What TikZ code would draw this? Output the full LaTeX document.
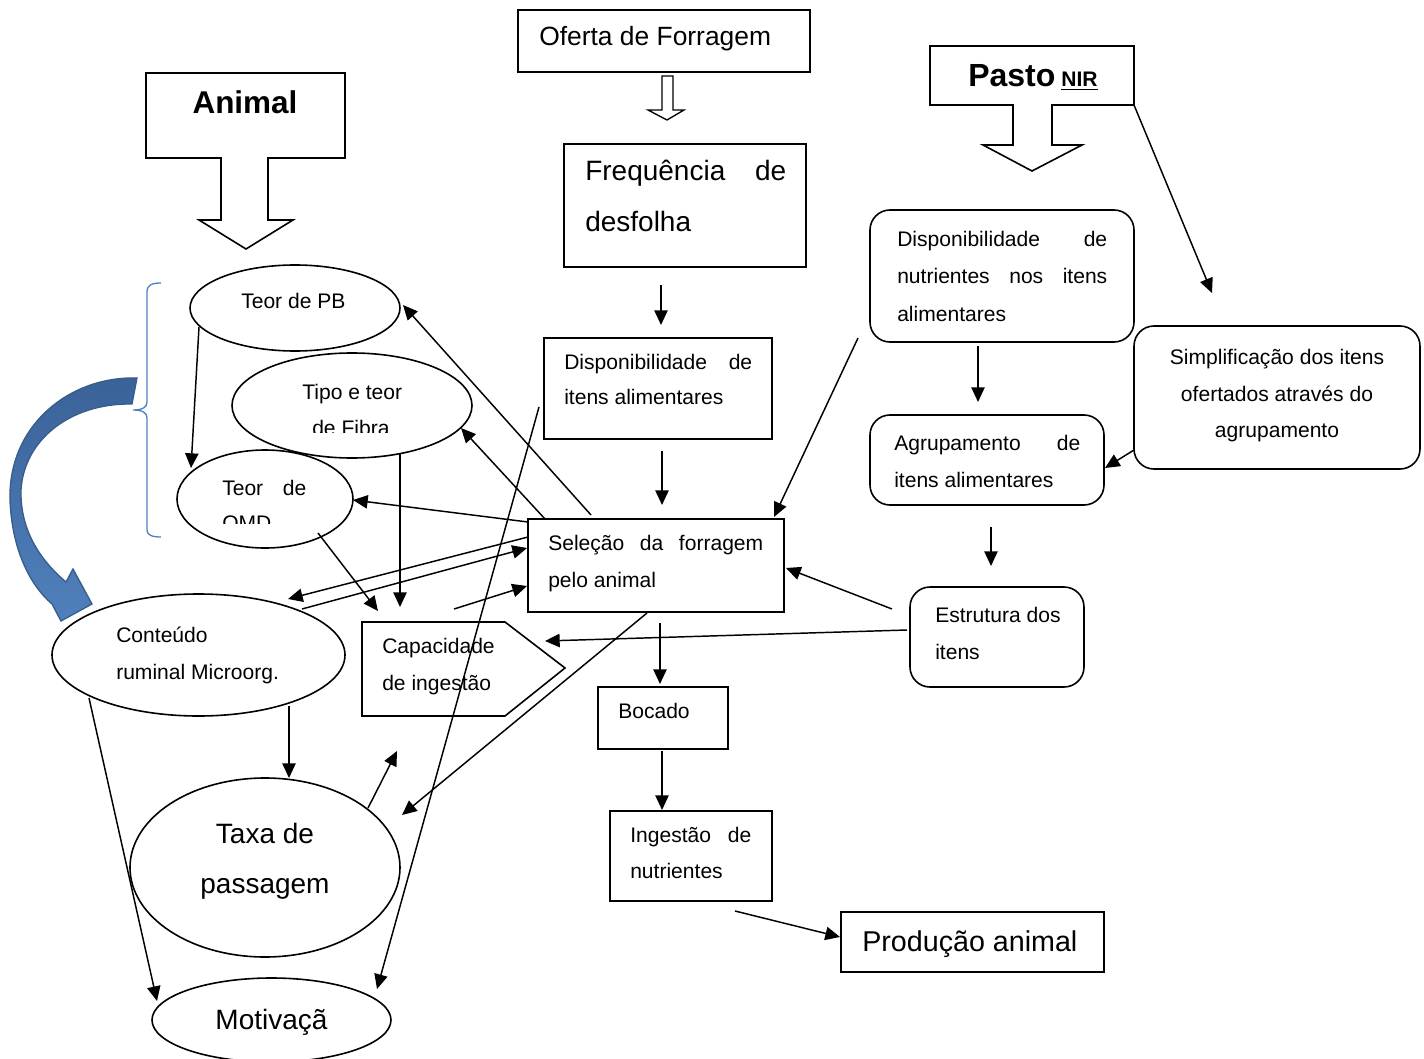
\documentclass[tikz,border=0pt]{standalone}
\usepackage{fontspec}
\setmainfont{Liberation Sans}
\usetikzlibrary{arrows.meta,shapes.geometric}
\definecolor{bracecol}{RGB}{79,129,189}
\definecolor{arrdark}{RGB}{56,93,138}
\definecolor{arrtop}{RGB}{58,98,152}
\definecolor{arrbot}{RGB}{80,128,188}
\newcommand{\jl}[2]{\makebox[#1][s]{#2}}
\begin{document}
\begin{tikzpicture}[x=0.75pt,y=-0.75pt,
 sz/.style 2 args={minimum width=#1*0.75pt,minimum height=#2*0.75pt},
 box/.style={draw,line width=1.2pt,rectangle,inner sep=0pt},
 rbox/.style={box,rounded corners=15pt},
 ell/.style={draw,line width=1.2pt,ellipse,inner sep=0pt},
 arr/.style={line width=1.1pt,-{Triangle[length=11pt,width=10pt]}},
 txt/.style={inner sep=0pt,anchor=base west,font=\fontsize{15.8}{18}\selectfont},
 big/.style={inner sep=0pt,anchor=base west,font=\fontsize{21}{24}\selectfont},
 bigc/.style={big,anchor=base},
 blockarr/.style={draw,line width=1.2pt,line join=miter},
]
\useasboundingbox (0,0) rectangle (1424,1059);

% ---------- block arrows ----------
\draw[blockarr] (146,73) -- (345,73) -- (345,158) -- (268,158) -- (268,220) -- (293,220)
  -- (246,249) -- (199,220) -- (221,220) -- (221,158) -- (146,158) -- cycle;
\node[inner sep=0pt,anchor=base,font=\fontsize{23.6}{28}\selectfont\bfseries] (tanimal) at (245,114) {Animal};

\draw[blockarr] (930,46) -- (1134,46) -- (1134,105) -- (1052,105) -- (1052,145) -- (1082,145)
  -- (1032,171) -- (983,145) -- (1013,145) -- (1013,105) -- (930,105) -- cycle;
\node[inner sep=0pt,anchor=base west] (tpasto) at (968,87)
  {{\fontsize{24}{28}\selectfont\bfseries Pasto}\hspace{4.5pt}{\fontsize{15.8}{18}\selectfont\bfseries\underline{NIR}}};
\coordinate (pastocorner) at (1134,105);

% ---------- boxes ----------
\node[box,sz={292}{62}] (oferta) at (664,41) {};
\node[inner sep=0pt,anchor=base west,font=\fontsize{19.8}{24}\selectfont] (toferta) at (539,46) {Oferta de Forragem};
\draw[blockarr,line width=1pt] (662,76) -- (673,76) -- (673,110) -- (684,110) -- (667,120) -- (648,110) -- (662,110) -- cycle;

\node[box,sz={242}{123}] (freq) at (685,205.5) {};
\node[big] (tfreq1) at (585,181) {\jl{150.75pt}{Frequência de}};
\node[big] (tfreq2) at (585,232) {desfolha};

\node[box,sz={228}{101}] (disp) at (658,388.5) {};
\node[txt] (tdisp1) at (564,369) {\jl{141pt}{Disponibilidade de}};
\node[txt] (tdisp2) at (564,404) {itens alimentares};

\node[box,sz={256}{93}] (selec) at (656,565.5) {};
\node[txt] (tsel1) at (548,550) {\jl{161.25pt}{Seleção da forragem}};
\node[txt] (tsel2) at (548,587) {pelo animal};

\node[box,sz={130}{62}] (bocado) at (663,718) {};
\node[txt] (tboc) at (618,718) {Bocado};

\node[box,sz={162}{90}] (ingest) at (691,856) {};
\node[txt] (ting1) at (630,842) {\jl{90.75pt}{Ingestão de}};
\node[txt] (ting2) at (630,878) {nutrientes};

\node[box,sz={263}{60}] (prod) at (972.5,942) {};
\node[inner sep=0pt,anchor=base west,font=\fontsize{21.5}{26}\selectfont] (tprod) at (862,951) {Produção animal};

% ---------- rounded boxes (right) ----------
\node[rbox,sz={264}{132}] (dispnut) at (1002,276) {};
\node[txt] (tdn1) at (897,247) {\jl{157.5pt}{Disponibilidade de}};
\node[txt] (tdn2) at (897,284) {\jl{157.5pt}{nutrientes nos itens}};
\node[txt] (tdn3) at (897,321) {alimentares};

\node[rbox,sz={234}{90}] (agrup) at (987,460) {};
\node[txt] (tag1) at (894,450) {\jl{139.5pt}{Agrupamento de}};
\node[txt] (tag2) at (894,487) {itens alimentares};

\node[rbox,sz={174}{100}] (estrut) at (997,637) {};
\node[txt] (tes1) at (935,622) {Estrutura dos};
\node[txt] (tes2) at (935,659) {itens};

\node[rbox,sz={286}{143}] (simpl) at (1277,397.5) {};
\node[txt,anchor=base] (tsi1) at (1277,364) {Simplificação dos itens};
\node[txt,anchor=base] (tsi2) at (1277,401) {ofertados através do};
\node[txt,anchor=base] (tsi3) at (1277,437) {agrupamento};

% ---------- ellipses ----------
\node[ell,sz={210}{86}] (pb) at (295,308) {};
\node[txt] (tpb) at (241,309) {Teor de PB};

\node[ell,sz={240}{105}] (fib) at (352,405.5) {};
\node[ell,sz={176}{98}] (omd) at (265,499) {};
\begin{scope}
\clip (200,360) rectangle (470,432);
\node[txt] (tfib1) at (302,399) {Tipo e teor};
\node[txt] (tfib2) at (312,435) {de Fibra};
\end{scope}
\begin{scope}
\clip (190,460) rectangle (340,523);
\node[txt] (tomd1) at (222,495) {\jl{63pt}{Teor de}};
\node[txt] (tomd2) at (222,530) {OMD};
\end{scope}

\node[ell,sz={293}{122}] (cont) at (198.5,655) {};
\node[txt] (tco1) at (116,642) {Conteúdo};
\node[txt] (tco2) at (116,679) {ruminal Microorg.};

\node[ell,sz={270}{179}] (taxa) at (265,867.5) {};
\node[bigc] (tta1) at (265,843) {Taxa de};
\node[bigc] (tta2) at (265,893) {passagem};

\node[ell,sz={239}{84}] (motiv) at (271.5,1020) {};
\node[bigc] (tmo) at (271.5,1029) {Motivaçã};

% ---------- capacidade (pentagon arrow) ----------
\draw[blockarr] (362,622) -- (505,622) -- (565,668) -- (505,716) -- (362,716) -- cycle;
\node[txt] (tca1) at (382,653) {Capacidade};
\node[txt] (tca2) at (382,690) {de ingestão};

% ---------- blue brace and curved arrow ----------
\draw[bracecol,line width=1pt] (161,283) .. controls (152,283) and (147,285) .. (147,292) -- (147,402)
  .. controls (147,407) and (143,410) .. (133,410) .. controls (143,410) and (147,413) .. (147,418)
  -- (147,530) .. controls (147,535) and (152,537) .. (161,537);
\path[draw=arrdark,line width=1pt,top color=arrtop,bottom color=arrbot]
  (137,378) .. controls (70,376) and (8,425) .. (10,500) .. controls (12,550) and (30,585) .. (52,604)
  -- (61,621) -- (92,604) -- (73,569) -- (66,582)
  .. controls (40,560) and (20,530) .. (21,490) .. controls (24,440) and (70,403) .. (132,404) -- cycle;

% ---------- connector end points ----------
\coordinate (c1a) at (661,285); \coordinate (c1b) at (661,325);
\coordinate (c2a) at (662,451); \coordinate (c2b) at (662,505);
\coordinate (c3a) at (660,623); \coordinate (c3b) at (660,684);
\coordinate (c4a) at (662,751); \coordinate (c4b) at (662,810);
\coordinate (c5a) at (735,911); \coordinate (c5b) at (840,937);
\coordinate (c6b) at (1212,293);
\coordinate (c7a) at (858,338); \coordinate (c7b) at (774,517);
\coordinate (c8a) at (978,346); \coordinate (c8b) at (978,402);
\coordinate (c9a) at (991,527); \coordinate (c9b) at (991,566);
\coordinate (c10a) at (1134,450); \coordinate (c10b) at (1105,468);
\coordinate (c11a) at (892,609); \coordinate (c11b) at (786,568);
\coordinate (c12a) at (907,630); \coordinate (c12b) at (545,641);
\coordinate (c13a) at (199,327); \coordinate (c13b) at (191,468);
\coordinate (c14a) at (591,515); \coordinate (c14b) at (403,305);
\coordinate (c15a) at (545,519); \coordinate (c15b) at (461,428);
\coordinate (c16a) at (528,522); \coordinate (c16b) at (353,500);
\coordinate (c17a) at (528,537); \coordinate (c17b) at (288,599);
\coordinate (c18a) at (302,609); \coordinate (c18b) at (527,548);
\coordinate (c19a) at (454,609); \coordinate (c19b) at (527,586);
\coordinate (c20a) at (318,533); \coordinate (c20b) at (378,611);
\coordinate (c21a) at (400,453); \coordinate (c21b) at (400,607);
\coordinate (c22a) at (539,407); \coordinate (c22b) at (377,989);
\coordinate (c23a) at (647,613); \coordinate (c23b) at (402,815);
\coordinate (c24a) at (368,808); \coordinate (c24b) at (397,751);
\coordinate (c25a) at (289,706); \coordinate (c25b) at (289,778);
\coordinate (c26a) at (89,698); \coordinate (c26b) at (157,1001);

% ---------- connectors ----------
\draw[arr] (c1a) -- (c1b);
\draw[arr] (c2a) -- (c2b);
\draw[arr] (c3a) -- (c3b);
\draw[arr] (c4a) -- (c4b);
\draw[arr] (c5a) -- (c5b);
\draw[arr] (pastocorner) -- (c6b);
\draw[arr] (c7a) -- (c7b);
\draw[arr] (c8a) -- (c8b);
\draw[arr] (c9a) -- (c9b);
\draw[arr] (c10a) -- (c10b);
\draw[arr] (c11a) -- (c11b);
\draw[arr] (c12a) -- (c12b);
\draw[arr] (c13a) -- (c13b);
\draw[arr] (c14a) -- (c14b);
\draw[arr] (c15a) -- (c15b);
\draw[arr] (c16a) -- (c16b);
\draw[arr] (c17a) -- (c17b);
\draw[arr] (c18a) -- (c18b);
\draw[arr] (c19a) -- (c19b);
\draw[arr] (c20a) -- (c20b);
\draw[arr] (c21a) -- (c21b);
\draw[arr] (c22a) -- (c22b);
\draw[arr] (c23a) -- (c23b);
\draw[arr] (c24a) -- (c24b);
\draw[arr] (c25a) -- (c25b);
\draw[arr] (c26a) -- (c26b);
\end{tikzpicture}
\end{document}
